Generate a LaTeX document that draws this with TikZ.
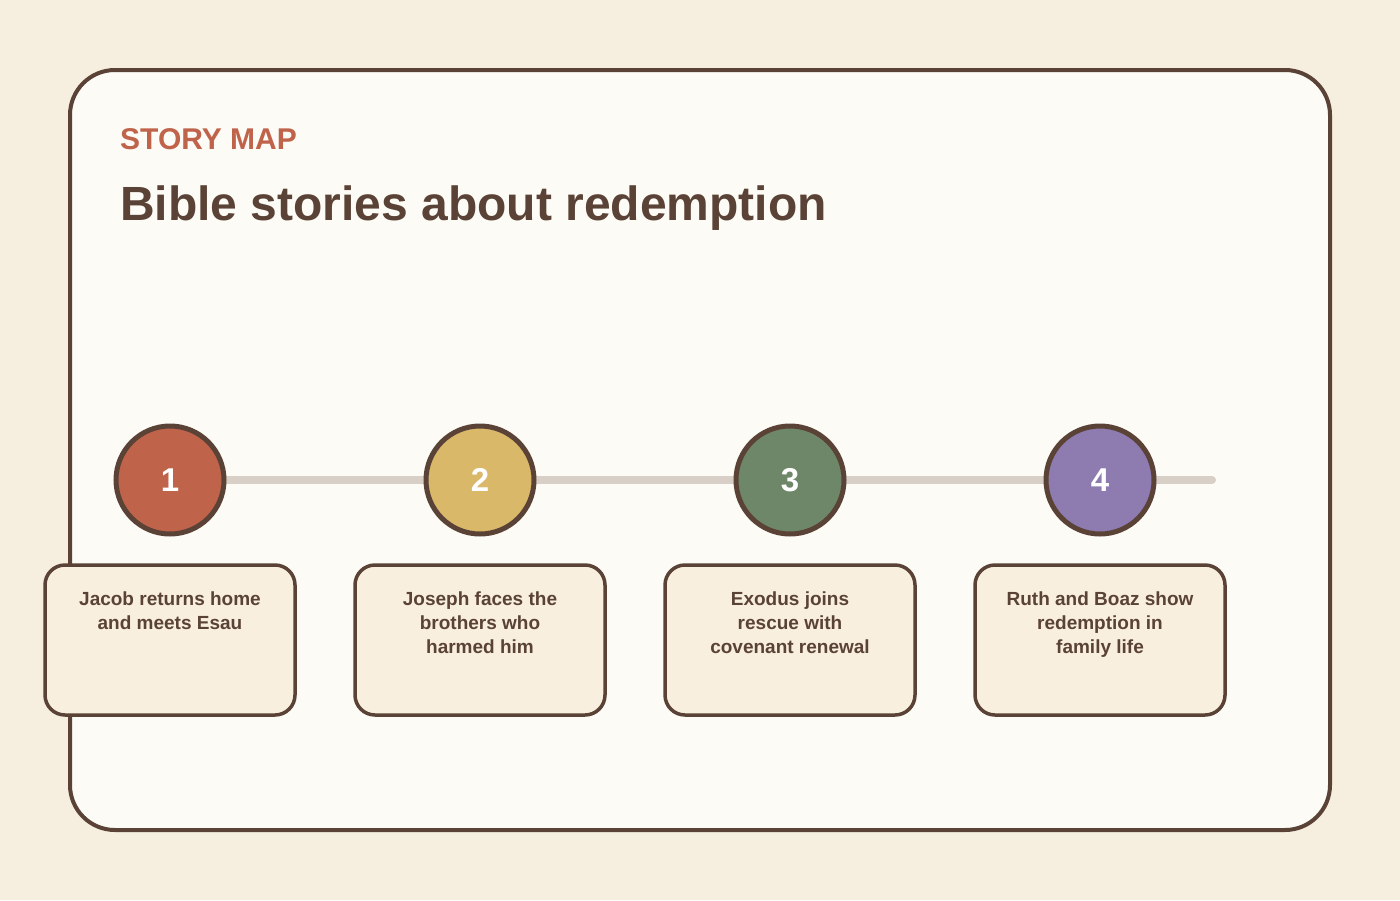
\documentclass[tikz,border=0pt]{standalone}
\usepackage{fontspec}
\setmainfont{Liberation Sans}
\usetikzlibrary{positioning}
\definecolor{pagebg}{HTML}{F6EFE0}
\definecolor{cardbg}{HTML}{FDFBF6}
\definecolor{ink}{HTML}{5A4336}
\definecolor{accent}{HTML}{C0634B}
\definecolor{trackc}{HTML}{D8CFC6}
\definecolor{boxbg}{HTML}{F8EFDF}
\definecolor{stepa}{HTML}{C0634B}
\definecolor{stepb}{HTML}{D9B86A}
\definecolor{stepc}{HTML}{6E8769}
\definecolor{stepd}{HTML}{8E7BAF}
\tikzset{
  stepnode/.style={circle, draw=ink, line width=5pt, minimum size=108pt, inner sep=0pt,
    text=white, font=\fontsize{33}{33}\selectfont\bfseries},
  story/.style={draw=ink, line width=3.5pt, fill=boxbg, rounded corners=20pt,
    minimum width=250pt, minimum height=150pt},
  storytext/.style={align=center, text=ink, font=\fontsize{19}{24}\selectfont\bfseries, anchor=north}
}
\begin{document}
\begin{tikzpicture}[x=1pt,y=-1pt]
  \fill [pagebg] (0,0) rectangle (1400,900);
  \useasboundingbox (0,0) rectangle (1400,900);
  \draw [ink, line width=4pt, fill=cardbg, rounded corners=45pt] (70,70) rectangle (1330,830);
  \node [anchor=base west, text=accent, font=\fontsize{30}{30}\selectfont\bfseries, inner sep=0pt] (kicker) at (120,149) {STORY MAP};
  \node [anchor=base west, text=ink, font=\fontsize{48}{48}\selectfont\bfseries, inner sep=0pt] (title) at (120,220) {Bible stories about redemption};
  \coordinate (trackstart) at (170,480);
  \coordinate (trackend) at (1212,480);
  \draw [trackc, line width=8pt, line cap=round] (trackstart) -- (trackend);
  \foreach \n/\x/\c/\t in {1/170/stepa/{Jacob returns home\\and meets Esau},
                           2/480/stepb/{Joseph faces the\\brothers who\\harmed him},
                           3/790/stepc/{Exodus joins\\rescue with\\covenant renewal},
                           4/1100/stepd/{Ruth and Boaz show\\redemption in\\family life}} {
    \node [stepnode, fill=\c] (step\n) at (\x,480) {\raisebox{-2pt}{\n}};
    \node [story] (box\n) at (\x,640) {};
    \node [storytext] (text\n) at (\x,588) {\t};
  }
\end{tikzpicture}
\end{document}
